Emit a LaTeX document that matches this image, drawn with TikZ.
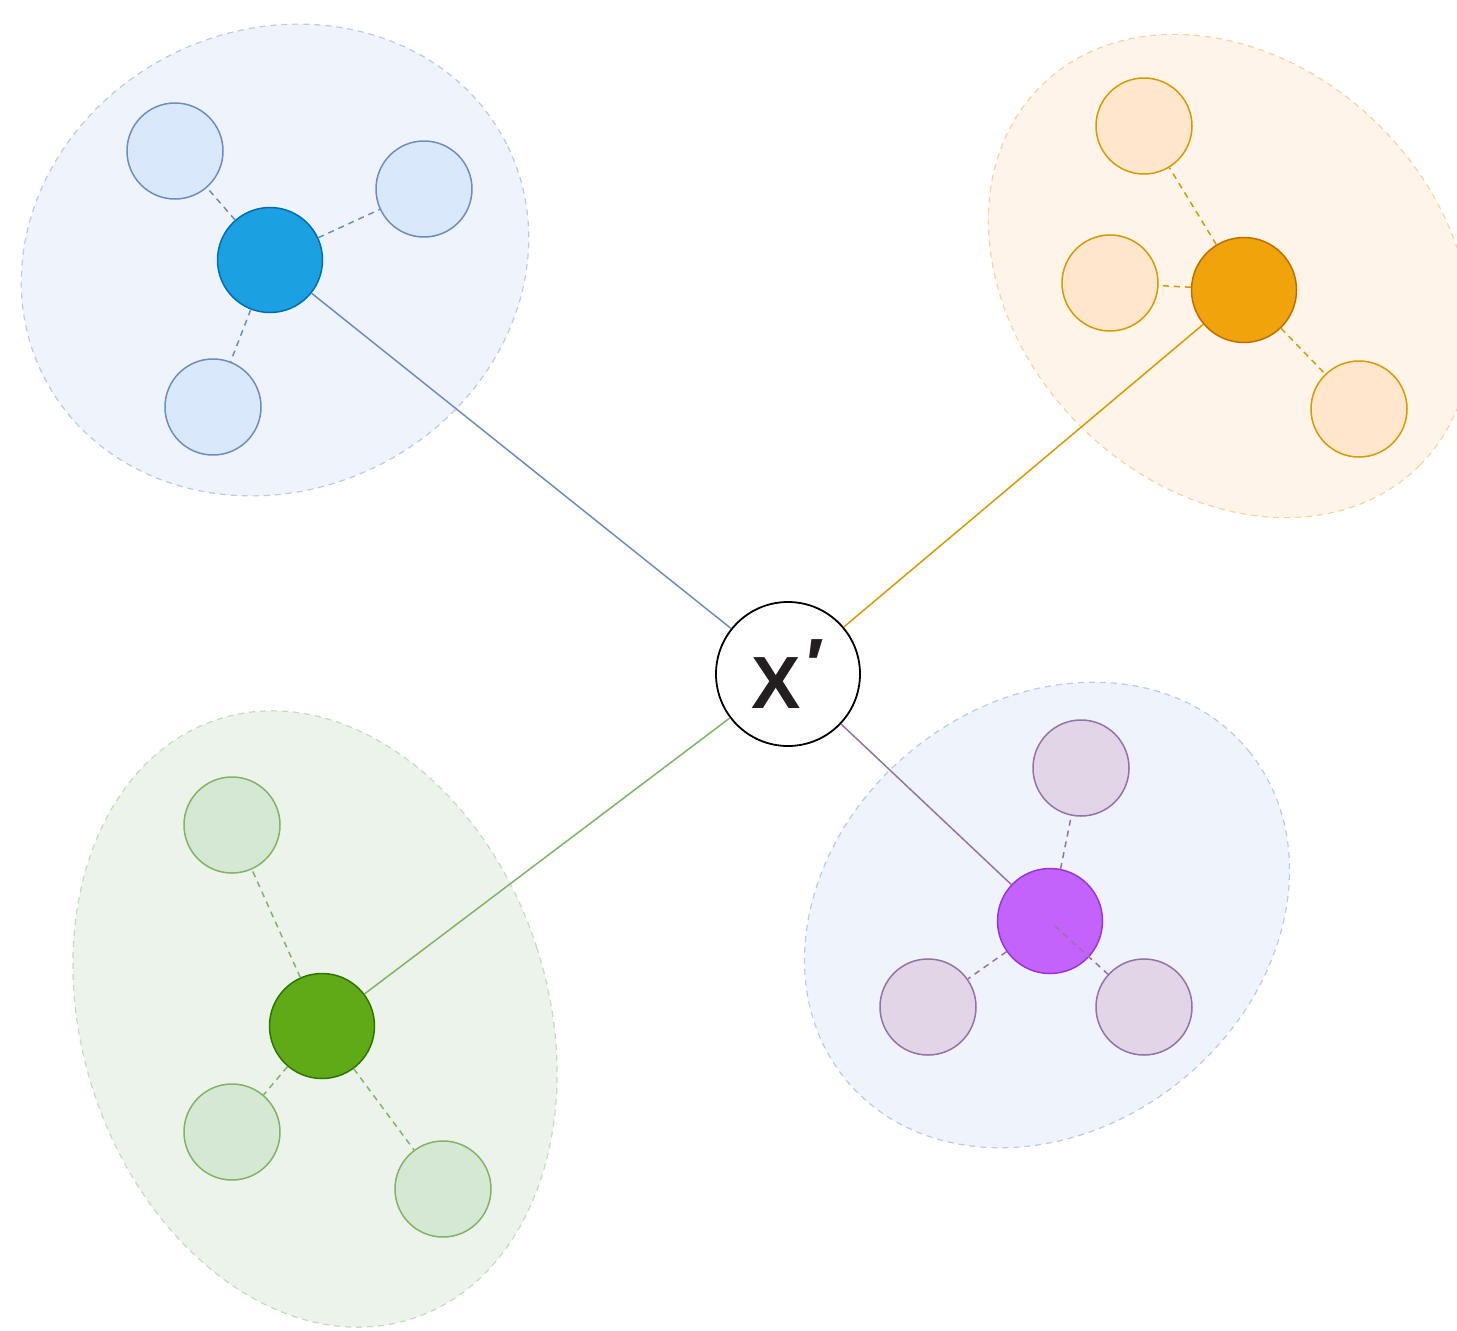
\documentclass[tikz,border=0pt]{standalone}
\usepackage{fontspec}
\setmainfont{Liberation Sans}
\newfontfamily\xbold[UprightFont={* Bold}]{Liberation Sans}
\definecolor{bGfill}{HTML}{EEF3FC}
\definecolor{bGline}{HTML}{BACBE6}
\definecolor{oGfill}{HTML}{FFF4E9}
\definecolor{oGline}{HTML}{F4D5A0}
\definecolor{gGfill}{HTML}{ECF3EA}
\definecolor{gGline}{HTML}{C4DCBE}
\definecolor{bHub}{HTML}{1BA1E2}
\definecolor{bHubL}{HTML}{006EAF}
\definecolor{bLeaf}{HTML}{DAE8FC}
\definecolor{bLeafL}{HTML}{6C8EBF}
\definecolor{oHub}{HTML}{F0A30A}
\definecolor{oHubL}{HTML}{BD7000}
\definecolor{oLeaf}{HTML}{FFE6CC}
\definecolor{oLeafL}{HTML}{D79B00}
\definecolor{gHub}{HTML}{60A917}
\definecolor{gHubL}{HTML}{2D7600}
\definecolor{gLeaf}{HTML}{D5E8D4}
\definecolor{gLeafL}{HTML}{82B366}
\definecolor{pHub}{HTML}{C462FC}
\definecolor{pHubL}{HTML}{9933E0}
\definecolor{pLeaf}{HTML}{E1D5E7}
\definecolor{pLeafL}{HTML}{9673A6}
\definecolor{txt}{HTML}{231F20}
\tikzset{
  grp/.style={line width=1.2pt, dash pattern=on 6pt off 5pt},
  hub/.style={circle, minimum size=105pt, inner sep=0pt, line width=1.5pt},
  leaf/.style={circle, minimum size=96pt, inner sep=0pt, line width=1.5pt},
  link/.style={line width=1.5pt},
  dlink/.style={line width=1.5pt, dash pattern=on 6pt off 5pt},
  center/.style={circle, minimum size=144pt, inner sep=0pt, line width=1.8pt, draw=black, fill=white, text=txt,
    font=\xbold\fontsize{74pt}{74pt}\selectfont},
}
\begin{document}
\begin{tikzpicture}[x=1pt,y=-1pt]
\useasboundingbox (0,0) rectangle (1457,1331);
\clip (0,0) rectangle (1457,1331);
% groups
\path[grp, fill=bGfill, draw=bGline] (275,260) ellipse [x radius=259, y radius=230, rotate=26];
\path[grp, fill=oGfill, draw=oGline] (1230,276) ellipse [x radius=268, y radius=212, rotate=-45];
\path[grp, fill=gGfill, draw=gGline] (315,1019) ellipse [x radius=233, y radius=315, rotate=18];
\path[grp, fill=bGfill, draw=bGline] (1047,915) ellipse [x radius=260, y radius=213, rotate=39];
% nodes
\node[center] (c) at (788,674) {X\kern5pt\raisebox{18pt}{′}};
\node[hub, fill=bHub, draw=bHubL] (b0) at (270,260) {};
\node[leaf, fill=bLeaf, draw=bLeafL] (b1) at (175,151) {};
\node[leaf, fill=bLeaf, draw=bLeafL] (b2) at (424,189) {};
\node[leaf, fill=bLeaf, draw=bLeafL] (b3) at (213,407) {};
\node[hub, fill=oHub, draw=oHubL] (o0) at (1244,290) {};
\node[leaf, fill=oLeaf, draw=oLeafL] (o1) at (1144,126) {};
\node[leaf, fill=oLeaf, draw=oLeafL] (o2) at (1110,283) {};
\node[leaf, fill=oLeaf, draw=oLeafL] (o3) at (1359,409) {};
\node[hub, fill=gHub, draw=gHubL] (g0) at (322,1026) {};
\node[leaf, fill=gLeaf, draw=gLeafL] (g1) at (232,825) {};
\node[leaf, fill=gLeaf, draw=gLeafL] (g2) at (232,1132) {};
\node[leaf, fill=gLeaf, draw=gLeafL] (g3) at (443,1189) {};
\node[hub, fill=pHub, draw=pHubL] (p0) at (1050,921) {};
\node[leaf, fill=pLeaf, draw=pLeafL] (p1) at (1081,768) {};
\node[leaf, fill=pLeaf, draw=pLeafL] (p2) at (928,1007) {};
\node[leaf, fill=pLeaf, draw=pLeafL] (p3) at (1144,1007) {};
\coordinate (pj) at (1055,926);
% links to center
\draw[link, draw=bLeafL] (b0) -- (c);
\draw[link, draw=oLeafL] (o0) -- (c);
\draw[link, draw=gLeafL] (g0) -- (c);
\draw[link, draw=pLeafL] (p0) -- (c);
% dashed links
\draw[dlink, draw=bLeafL] (b0) -- (b1);
\draw[dlink, draw=bLeafL] (b0) -- (b2);
\draw[dlink, draw=bLeafL] (b0) -- (b3);
\draw[dlink, draw=oLeafL] (o0) -- (o1);
\draw[dlink, draw=oLeafL] (o0) -- (o2);
\draw[dlink, draw=oLeafL] (o0) -- (o3);
\draw[dlink, draw=gLeafL] (g0) -- (g1);
\draw[dlink, draw=gLeafL] (g0) -- (g2);
\draw[dlink, draw=gLeafL] (g0) -- (g3);
\draw[dlink, draw=pLeafL] (p0) -- (p1);
\draw[dlink, draw=pLeafL] (p0) -- (p2);
\draw[dlink, draw=pLeafL] (pj) -- (p3);
\end{tikzpicture}
\end{document}
